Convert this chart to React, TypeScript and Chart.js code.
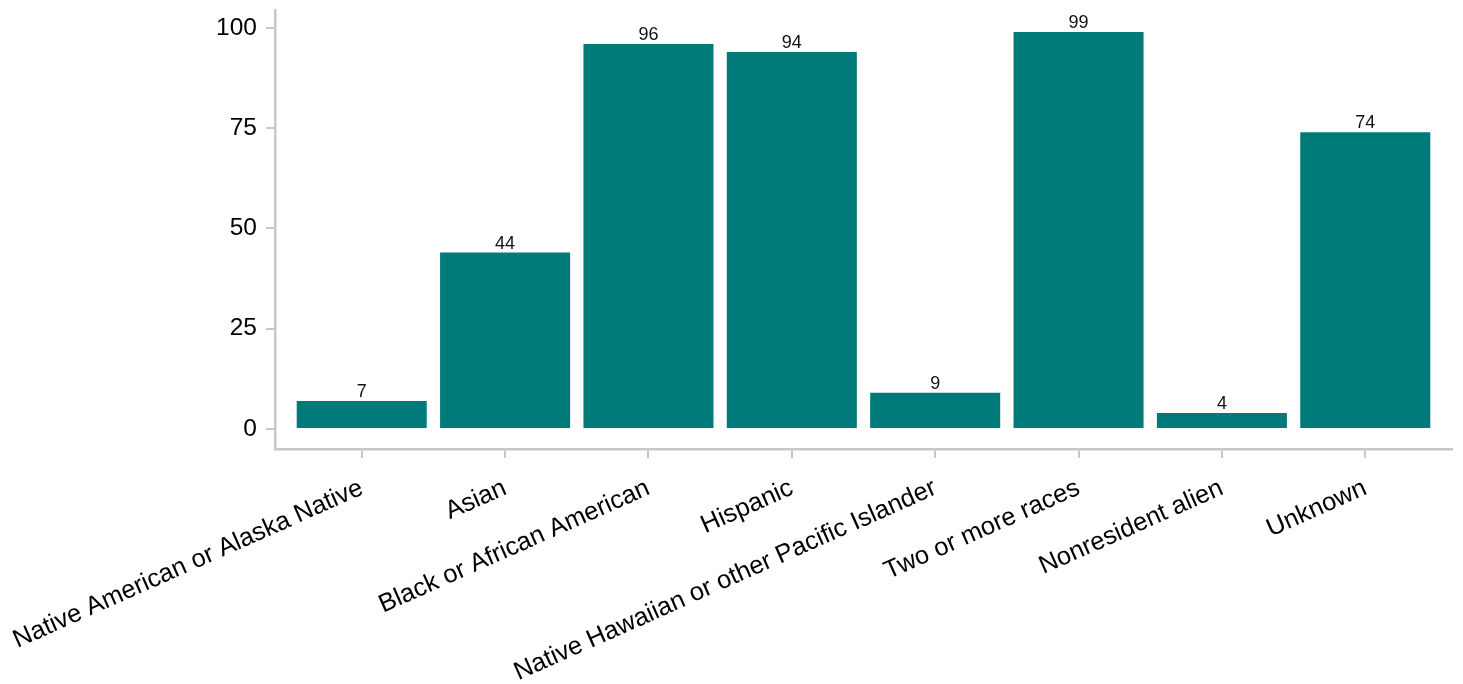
import React, { useEffect, useRef } from "react";
import { Chart, registerables } from "chart.js";

Chart.register(...registerables);

const categories = [
  "Native American or Alaska Native",
  "Asian",
  "Black or African American",
  "Hispanic",
  "Native Hawaiian or other Pacific Islander",
  "Two or more races",
  "Nonresident alien",
  "Unknown",
];
const values = [7, 44, 96, 94, 9, 99, 4, 74];
const yTicks = [0, 25, 50, 75, 100];

const BAR_COLOR = "#007a78";
const AXIS_COLOR = "#c8c8c8";
const FONT = "Liberation Sans, Arial, sans-serif";

const valueLabels = {
  id: "valueLabels",
  afterDatasetsDraw(chart: any) {
    const ctx = chart.ctx;
    const meta = chart.getDatasetMeta(0);
    ctx.save();
    ctx.font = `18px ${FONT}`;
    ctx.fillStyle = "#111";
    ctx.textAlign = "center";
    ctx.textBaseline = "alphabetic";
    meta.data.forEach((bar: any, i: number) => {
      ctx.fillText(String(values[i]), bar.x, bar.y - 4);
    });
    ctx.restore();
  },
};

export default function App() {
  const ref = useRef<HTMLCanvasElement | null>(null);
  useEffect(() => {
    document.body.style.margin = "0";
    const chart = new Chart(ref.current as HTMLCanvasElement, {
      type: "bar",
      data: {
        datasets: [
          {
            data: values.map((v, i) => ({ x: i, y: v })),
            backgroundColor: BAR_COLOR,
            barPercentage: 0.907,
            categoryPercentage: 1,
          },
        ],
      },
      options: {
        animation: false,
        responsive: false,
        maintainAspectRatio: false,
        layout: { padding: { top: 10, right: 11, left: 0, bottom: 0 } },
        plugins: { legend: { display: false }, tooltip: { enabled: false } },
        scales: {
          x: {
            type: "linear",
            offset: false,
            min: -0.605,
            max: 7.605,
            afterBuildTicks: (scale: any) => {
              scale.ticks = categories.map((_, i) => ({ value: i }));
            },
            afterFit: (scale: any) => {
              scale.height = 235;
              scale.paddingLeft = 0;
              scale.paddingRight = 0;
            },
            ticks: {
              callback: (v: any) => categories[v as number] ?? "",
              minRotation: 24,
              maxRotation: 24,
              autoSkip: false,
              color: "#000",
              padding: 15,
              font: { family: FONT, size: 25.5 },
            },
            grid: {
              offset: false,
              drawOnChartArea: false,
              drawTicks: true,
              tickLength: 9,
              color: AXIS_COLOR,
              lineWidth: 2,
            },
            border: { display: true, color: AXIS_COLOR, width: 2.5 },
          },
          y: {
            min: -5,
            max: 104.5,
            afterBuildTicks: (scale: any) => {
              scale.ticks = yTicks.map((v) => ({ value: v }));
            },
            afterFit: (scale: any) => {
              scale.width = 275;
              scale.paddingTop = 0;
              scale.paddingBottom = 0;
            },
            ticks: {
              color: "#000",
              padding: 9,
              font: { family: FONT, size: 24.5 },
            },
            grid: {
              drawOnChartArea: false,
              drawTicks: true,
              tickLength: 9,
              color: AXIS_COLOR,
              lineWidth: 2,
            },
            border: { display: true, color: AXIS_COLOR, width: 2.5 },
          },
        },
      },
      plugins: [valueLabels],
    });
    return () => chart.destroy();
  }, []);
  return (
    <div style={{ width: 1463, height: 684 }}>
      <canvas ref={ref} width={1463} height={684} style={{ display: "block" }} />
    </div>
  );
}
